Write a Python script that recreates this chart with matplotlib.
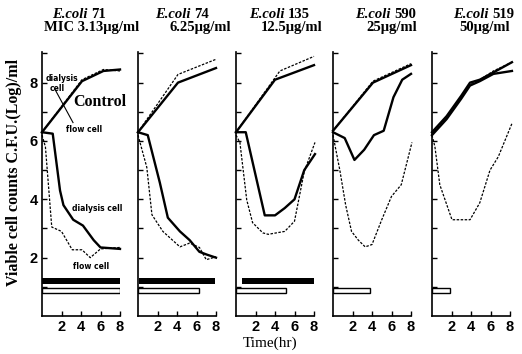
import matplotlib
matplotlib.use("Agg")
import matplotlib.pyplot as plt

plt.rcParams["font.family"] = "Liberation Serif"

# strains and MIC labels
strains = ["71", "74", "135", "590", "519"]
mic_labels = ["MIC 3.13\u03bcg/ml", "6.25\u03bcg/ml", "12.5\u03bcg/ml", "25\u03bcg/ml", "50\u03bcg/ml"]

# control curves (no drug), dialysis cell = solid, flow cell = dotted
ctl_dia_t = [[0, 4.1, 6.3, 8], [0, 4.1, 8], [0, 4.0, 8], [0, 4.1, 8], [0, 1.5, 3.0, 3.9, 4.9, 6.3, 8.2]]
ctl_dia_v = [[6.3, 8.05, 8.4, 8.45], [6.3, 8.0, 8.5], [6.3, 8.1, 8.6], [6.35, 8.0, 8.6],
             [6.3, 6.85, 7.55, 8.0, 8.1, 8.35, 8.7]]
ctl_flow_t = [[0, 4.1, 6.3, 8], [0, 4.1, 8], [0, 4.5, 8], [0, 4.1, 8], [0, 1.5, 3.0, 3.9, 4.9, 6.3, 8.2]]
ctl_flow_v = [[6.3, 8.1, 8.45, 8.4], [6.3, 8.28, 8.8], [6.3, 8.4, 8.9], [6.35, 8.05, 8.65],
              [6.25, 6.8, 7.5, 7.95, 8.1, 8.4, 8.7]]
# second control run shown for E.coli 519
ctl2_519_t = [0, 1.5, 3.0, 3.9, 4.9, 6.3, 8.2]
ctl2_519_v = [6.2, 6.75, 7.45, 7.9, 8.05, 8.3, 8.4]

# with drug
dia_t = [[0, 1.1, 1.85, 2.2, 3.2, 4.2, 5.3, 6.0, 8],
         [0, 1.0, 2.24, 3.06, 4.3, 5.3, 6.3, 7.1, 8],
         [0, 1.0, 2.95, 4.0, 5.0, 6.0, 7.0, 8.1],
         [0, 1.2, 2.2, 3.2, 4.2, 5.2, 6.2, 7.1, 8],
         []]
dia_v = [[6.3, 6.25, 4.3, 3.8, 3.3, 3.1, 2.6, 2.35, 2.3],
         [6.3, 6.2, 4.57, 3.37, 2.9, 2.6, 2.2, 2.1, 2.0],
         [6.3, 6.3, 3.45, 3.45, 3.7, 4.0, 5.0, 5.55],
         [6.3, 6.1, 5.35, 5.7, 6.2, 6.35, 7.5, 8.1, 8.3],
         []]
flow_t = [[0, 0.35, 1.0, 2.0, 3.1, 4.1, 4.95, 6.0, 8],
          [0, 0.9, 1.43, 2.55, 4.3, 5.3, 6.3, 7.0, 8],
          [0, 0.4, 1.1, 1.7, 2.75, 3.3, 5.0, 6.0, 7.0, 8.1],
          [0, 0.7, 1.3, 1.9, 2.6, 3.3, 4.0, 5.0, 6.0, 7.0, 8.1],
          [0, 0.3, 0.8, 2.05, 3.9, 4.9, 5.95, 6.8, 8.2]]
flow_v = [[6.2, 5.8, 3.05, 2.9, 2.27, 2.27, 2.0, 2.3, 2.35],
          [6.2, 5.1, 3.47, 2.9, 2.37, 2.5, 2.35, 1.93, 2.03],
          [6.2, 5.95, 3.98, 3.2, 2.85, 2.8, 2.9, 3.25, 4.95, 5.95],
          [6.2, 5.0, 3.8, 2.9, 2.6, 2.37, 2.45, 3.3, 4.1, 4.5, 5.95],
          [6.2, 5.8, 4.5, 3.3, 3.3, 3.88, 5.0, 5.46, 6.6]]

# drug level bars (above MIC): dialysis cell = black, flow cell = open
black_start = [0.0, 0.1, 0.6]
black_end = [8.0, 7.9, 8.0]
open_end = [8.0, 6.3, 5.1, 3.8, 1.8]

W, H = 522, 354
fig = plt.figure(figsize=(W / 100, H / 100), dpi=100)
lefts = [42, 138, 236, 333, 432]
top_px, base_px, width_px = 52, 316, 78
splits = [88, 191, 285, 391, 489]
mic_x = [92, 200, 292, 392, 485]
tick_font = {"family": "Liberation Sans", "size": 10.5, "weight": "bold"}
note_font = {"family": "DejaVu Sans", "size": 5.5, "weight": "bold"}

for i in range(5):
    ax = fig.add_axes([lefts[i] / W, 1 - base_px / H, width_px / W, (base_px - top_px) / H])
    ax.plot(ctl_dia_t[i], ctl_dia_v[i], color="black", lw=1.7, clip_on=False)
    ax.plot(ctl_flow_t[i], ctl_flow_v[i], color="black", lw=0.9, ls=(0, (2, 1.2)), clip_on=False)
    if i == 4:
        ax.plot(ctl2_519_t, ctl2_519_v, color="black", lw=1.7, clip_on=False)
    if dia_t[i]:
        ax.plot(dia_t[i], dia_v[i], color="black", lw=1.7, clip_on=False)
    ax.plot(flow_t[i], flow_v[i], color="black", lw=0.9, ls=(0, (2, 1.2)), clip_on=False)

    if i < 3:
        ax.barh(1.2, black_end[i] - black_start[i], left=black_start[i], height=0.2, color="black")
    ax.barh(0.86, open_end[i], left=0, height=0.17, facecolor="white", edgecolor="black", lw=1)

    ax.set_xlim(0, 8)
    ax.set_ylim(0, 9.05)
    for s in ["top", "right"]:
        ax.spines[s].set_visible(False)
    for s in ["left", "bottom"]:
        ax.spines[s].set_linewidth(1.2)
    ax.set_xticks([2, 4, 6, 8])
    ax.set_xticklabels(["2", "4", "6", "8"], fontdict=tick_font)
    ax.set_yticks(range(1, 10))
    if i == 0:
        ax.set_yticklabels(["", "2", "", "4", "", "6", "", "8", ""], fontdict=tick_font)
    else:
        ax.set_yticklabels([])
    ax.tick_params(direction="in", length=3.5, width=1, pad=3)

    # titles
    fig.text(splits[i] / W, 1 - 15 / H, "E.coli", ha="right", va="center",
             fontsize=10.5, fontweight="bold", fontstyle="italic")
    fig.text((splits[i] + 3) / W, 1 - 15 / H, strains[i], ha="left", va="center",
             fontsize=10.5, fontweight="bold")
    fig.text(mic_x[i] / W, 1 - 28 / H, mic_labels[i], ha="center", va="center",
             fontsize=10.5, fontweight="bold")

    if i == 0:
        ax.text(2.05, 8.14, "dialysis", ha="center", va="center", fontdict=note_font)
        ax.text(1.6, 7.8, "cell", ha="center", va="center", fontdict=note_font)
        ax.text(5.95, 7.32, "Control", ha="center", va="center", fontsize=11.5, fontweight="bold")
        ax.text(4.3, 6.39, "flow cell", ha="center", va="center", fontdict=note_font)
        ax.text(5.64, 3.68, "dialysis cell", ha="center", va="center", fontdict=note_font)
        ax.text(5.0, 1.68, "flow cell", ha="center", va="center", fontdict=note_font)
        ax.plot([1.33, 3.18], [7.77, 6.63], color="black", lw=0.8)

fig.text(14 / W, 1 - 172 / H, "Viable cell counts C.F.U.(Log)/ml", rotation=90,
         ha="center", va="center", fontsize=11.5, fontweight="bold")
fig.text(270 / W, 1 - 343 / H, "Time(hr)", ha="center", va="center", fontsize=11)

fig.savefig("out.png", dpi=100)
